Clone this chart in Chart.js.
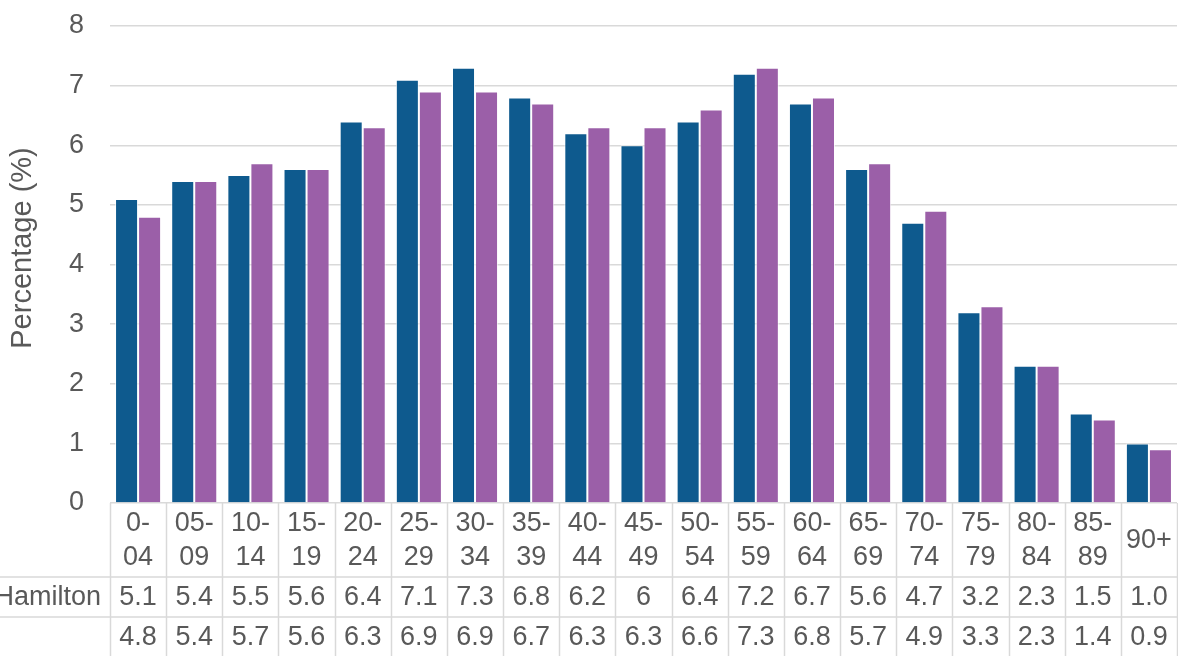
<!DOCTYPE html>
<html>
<head>
<meta charset="utf-8">
<script src="https://cdn.jsdelivr.net/npm/chart.js@4.4.0/dist/chart.umd.min.js"></script>
<style>
  html, body { margin: 0; padding: 0; background: #fff; }
  #wrap { width: 1178px; height: 656px; }
</style>
</head>
<body>
<div id="wrap"><canvas id="myChart" width="1178" height="656"></canvas></div>
<script>
// age groups
const grupos = ['0-04','05-09','10-14','15-19','20-24','25-29','30-34','35-39','40-44','45-49',
  '50-54','55-59','60-64','65-69','70-74','75-79','80-84','85-89','90+']
// kept as text so the table shows them as written (Chart.js parses them to numbers)
const hamilton = ['5.1','5.4','5.5','5.6','6.4','7.1','7.3','6.8','6.2','6',
  '6.4','7.2','6.7','5.6','4.7','3.2','2.3','1.5','1.0']
const segunda = ['4.8','5.4','5.7','5.6','6.3','6.9','6.9','6.7','6.3','6.3',
  '6.6','7.3','6.8','5.7','4.9','3.3','2.3','1.4','0.9']
const filas = ['Hamilton', '']
const colores = ['#0e5a8e', '#9b5fa8']

const fuente = '"Liberation Sans", Arial, sans-serif'
const tam = 27
const gris = '#595959'
const linea = '#d9d9d9'

// draws the data table under the bars and the axis title
const tablaPlugin = {
  id: 'tabla',
  afterDraw(chart) {
    const ctx = chart.ctx
    const area = chart.chartArea
    const x = chart.scales.x
    const paso = x.getPixelForValue(1) - x.getPixelForValue(0)
    const fila1 = 577, fila2 = 617, fondo = 657

    ctx.save()
    ctx.strokeStyle = linea
    ctx.lineWidth = 1.5
    ctx.beginPath()
    for (let i = 0; i <= grupos.length; i++) {
      const px = Math.round(x.getPixelForValue(i) - paso / 2) + 0.5
      ctx.moveTo(px, area.bottom)
      ctx.lineTo(px, fondo)
    }
    ctx.moveTo(0, fila1); ctx.lineTo(area.right, fila1)
    ctx.moveTo(0, fila2); ctx.lineTo(area.right, fila2)
    ctx.stroke()

    ctx.fillStyle = gris
    ctx.font = tam + 'px ' + fuente
    ctx.textAlign = 'center'
    ctx.textBaseline = 'middle'
    grupos.forEach((g, i) => {
      const cx = x.getPixelForValue(i)
      const partes = g.split('-')
      if (partes.length > 1) {
        ctx.fillText(partes[0] + '-', cx, 524)
        ctx.fillText(partes[1], cx, 558)
      } else {
        ctx.fillText(g, cx, 541)
      }
    })

    const series = [hamilton, segunda]
    const ys = [(fila1 + fila2) / 2 + 1, (fila2 + fondo) / 2 + 1]
    series.forEach((s, k) => {
      ctx.textAlign = 'center'
      s.forEach((v, i) => ctx.fillText(v, x.getPixelForValue(i), ys[k]))
      ctx.textAlign = 'right'
      ctx.fillText(filas[k], area.left - 9, ys[k])
    })

    // y axis title
    ctx.font = '29px ' + fuente
    ctx.translate(23, 248)
    ctx.rotate(-Math.PI / 2)
    ctx.textAlign = 'center'
    ctx.fillText('Percentage (%)', 0, 0)
    ctx.restore()
  }
}

const mychart = new Chart(document.getElementById('myChart'), {
  type: 'bar',
  data: {
    labels: grupos,
    datasets: [
      { label: filas[0], data: hamilton, backgroundColor: colores[0],
        borderColor: 'rgba(255,255,255,0.7)', borderWidth: 1 },
      { label: filas[1], data: segunda, backgroundColor: colores[1],
        borderColor: 'rgba(255,255,255,0.7)', borderWidth: 1 }
    ]
  },
  options: {
    responsive: false,
    animation: false,
    layout: { padding: { top: 26, bottom: 153, right: 1, left: 0 } },
    plugins: { legend: { display: false }, tooltip: { enabled: false } },
    datasets: { bar: { categoryPercentage: 0.82, barPercentage: 1 } },
    scales: {
      x: { display: false },
      y: {
        min: 0, max: 8,
        ticks: { stepSize: 1, color: gris, padding: 26, font: { family: fuente, size: tam } },
        grid: { color: linea, lineWidth: 1.5, drawTicks: false },
        border: { display: false },
        afterFit(scale) {
          scale.width = 110
          scale.paddingTop = 0
          scale.paddingBottom = 0
        }
      }
    }
  },
  plugins: [tablaPlugin]
})
</script>
</body>
</html>
